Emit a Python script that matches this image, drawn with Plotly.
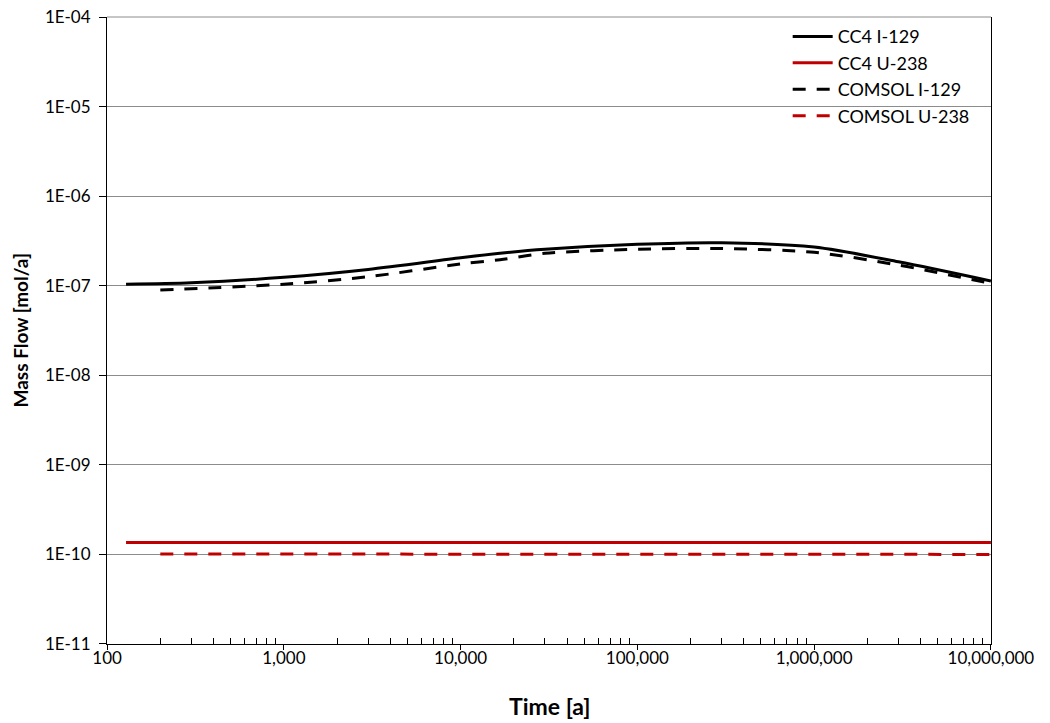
import plotly.graph_objects as go

# ---- data ----
cc4_i129_t = [128, 300, 1000, 3000, 10000, 16700, 30000, 100000, 300000, 1000000, 3000000, 10000000]
cc4_i129_v = [1.04e-7, 1.08e-7, 1.24e-7, 1.52e-7, 2.05e-7, 2.3e-7, 2.55e-7, 2.9e-7, 3.02e-7, 2.7e-7, 1.85e-7, 1.13e-7]

comsol_i129_t = [200, 1000, 3000, 10000, 16700, 30000, 100000, 300000, 1000000, 3000000, 10000000]
comsol_i129_v = [8.95e-8, 1.04e-7, 1.26e-7, 1.75e-7, 1.95e-7, 2.3e-7, 2.55e-7, 2.6e-7, 2.36e-7, 1.7e-7, 1.06e-7]

cc4_u238_t = [128, 10000000]
cc4_u238_v = [1.36e-10, 1.36e-10]

comsol_u238_t = [200, 10000000]
comsol_u238_v = [1.01e-10, 1.0e-10]

x_tickvals = [100, 1000, 10000, 100000, 1000000, 10000000]
x_ticktext = ["100", "1,000", "10,000", "100,000", "1,000,000", "10,000,000"]
y_tickvals = [1e-11, 1e-10, 1e-9, 1e-8, 1e-7, 1e-6, 1e-5, 1e-4]
y_ticktext = ["1E-11", "1E-10", "1E-09", "1E-08", "1E-07", "1E-06", "1E-05", "1E-04"]

x_title = "Time [a]"
y_title = "Mass Flow [mol/a]"

x_minor = [m * d for d in [100, 1000, 10000, 100000, 1000000] for m in range(2, 10)]

RED = "#C00000"
GRID = "#8c8c8c"
FONT = "Lato"

fig = go.Figure()
fig.add_trace(go.Scatter(x=cc4_i129_t, y=cc4_i129_v, mode="lines", name="CC4 I-129",
                         line=dict(color="black", width=3, shape="spline", smoothing=0.8),
                         legendgroup="a"))
fig.add_trace(go.Scatter(x=cc4_u238_t, y=cc4_u238_v, mode="lines", name="CC4 U-238",
                         line=dict(color=RED, width=3), legendgroup="b"))
fig.add_trace(go.Scatter(x=comsol_i129_t, y=comsol_i129_v, mode="lines", name="COMSOL I-129",
                         line=dict(color="black", width=3, dash="13px,11px", shape="spline", smoothing=0.8),
                         legendgroup="c"))
fig.add_trace(go.Scatter(x=comsol_u238_t, y=comsol_u238_v, mode="lines", name="COMSOL U-238",
                         line=dict(color=RED, width=3, dash="13px,11px"), legendgroup="d"))

fig.update_layout(
    width=1050, height=723,
    margin=dict(l=107, r=59, t=17, b=79),
    paper_bgcolor="white", plot_bgcolor="white",
    font=dict(family=FONT, size=17, color="black"),
    legend=dict(x=0.770, y=0.998, xanchor="left", yanchor="top",
                bgcolor="rgba(0,0,0,0)", font=dict(size=18, color="black"),
                traceorder="grouped", tracegroupgap=0, itemwidth=40),
    showlegend=True,
    annotations=[
        dict(text="<b>" + x_title + "</b>", xref="paper", yref="paper", x=0.5, y=0,
             xanchor="center", yanchor="middle", yshift=-62, showarrow=False,
             font=dict(size=23, family=FONT, color="black")),
        dict(text="<b>" + y_title + "</b>", xref="paper", yref="paper", x=0, y=0.5,
             xanchor="center", yanchor="middle", xshift=-87, textangle=-90, showarrow=False,
             font=dict(size=19, family=FONT, color="black")),
    ],
    shapes=[
        # top gridline (plotly clips gridlines at the axis ends)
        dict(type="line", xref="paper", yref="paper", x0=0, x1=1, y0=1, y1=1,
             line=dict(color=GRID, width=1), layer="below"),
    ],
)

fig.update_xaxes(
    type="log", range=[1.9995, 7.0005], automargin=False,
    tickmode="array", tickvals=x_tickvals, ticktext=x_ticktext,
    ticks="outside", ticklen=5, tickcolor="black", tickwidth=1,
    showline=True, linecolor="black", linewidth=1,
    showgrid=False, zeroline=False, ticklabelstandoff=-6, ticklabeloverflow="allow",
    minor=dict(tickmode="array", tickvals=x_minor, ticks="inside", ticklen=6,
               tickcolor="black", tickwidth=1, showgrid=False),
    tickfont=dict(size=17, family=FONT),
)
fig.update_yaxes(
    type="log", range=[-11.0005, -3.9995], automargin=False,
    tickmode="array", tickvals=y_tickvals, ticktext=y_ticktext,
    ticks="outside", ticklen=7, tickcolor="black", tickwidth=1,
    showline=True, linecolor="black", linewidth=1, mirror=True,
    showgrid=True, gridcolor=GRID, gridwidth=1, zeroline=False,
    ticklabelstandoff=5, ticklabeloverflow="allow",
    tickfont=dict(size=17, family=FONT),
)

# remove the browser's default 8px body margin so the figure fills the window exactly
fig.write_html("out.html",
               config={"displayModeBar": False},
               post_script="document.body.style.margin='0';document.body.style.overflow='hidden';")
